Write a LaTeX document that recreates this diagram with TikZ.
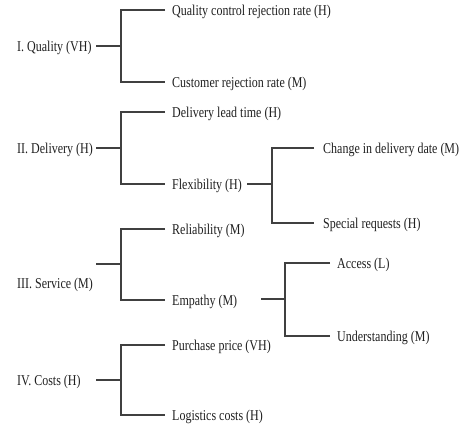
\documentclass[tikz,border=0pt]{standalone}
\usepackage{fontspec}
\setmainfont[FakeStretch=0.8]{Liberation Serif}
\begin{document}
\begin{tikzpicture}[x=1pt,y=-1pt,
  lbl/.style={anchor=base west,inner sep=0pt,font=\fontsize{15}{17}\selectfont,text=black!88},
  ln/.style={line width=1.2pt,draw=black!75}]
\useasboundingbox (0,0) rectangle (469,432);
% Group I
\node[lbl] (q) at (17,51) {I. Quality (VH)};
\node[lbl] (qa) at (172,15) {Quality control rejection rate (H)};
\node[lbl] (qb) at (172,87) {Customer rejection rate (M)};
\coordinate (qs) at (96,46);
\coordinate (qj) at (121,46);
\draw[ln] (qs) -- (qj);
\draw[ln] ([xshift=-7pt,yshift=5pt]qa.base west) -| (qj) |- ([xshift=-7pt,yshift=5pt]qb.base west);
% Group II
\node[lbl] (d) at (17,153) {II. Delivery (H)};
\node[lbl] (da) at (172,117) {Delivery lead time (H)};
\node[lbl] (db) at (172,189) {Flexibility (H)};
\coordinate (ds) at (96,148);
\coordinate (dj) at (121,148);
\draw[ln] (ds) -- (dj);
\draw[ln] ([xshift=-7pt,yshift=5pt]da.base west) -| (dj) |- ([xshift=-7pt,yshift=5pt]db.base west);
\node[lbl] (fa) at (323,153) {Change in delivery date (M)};
\node[lbl] (fb) at (323,228) {Special requests (H)};
\coordinate (fs) at (247,184);
\coordinate (fj) at (272,184);
\draw[ln] (fs) -- (fj);
\draw[ln] ([xshift=-9pt,yshift=5pt]fa.base west) -| (fj) |- ([xshift=-9pt,yshift=5pt]fb.base west);
% Group III
\node[lbl] (s) at (17,288) {III. Service (M)};
\node[lbl] (sa) at (172,234) {Reliability (M)};
\node[lbl] (sb) at (172,305) {Empathy (M)};
\coordinate (ss) at (96,264);
\coordinate (sj) at (121,264);
\draw[ln] (ss) -- (sj);
\draw[ln] ([xshift=-7pt,yshift=5pt]sa.base west) -| (sj) |- ([xshift=-7pt,yshift=5pt]sb.base west);
\node[lbl] (ea) at (337,268) {Access (L)};
\node[lbl] (eb) at (337,341) {Understanding (M)};
\coordinate (es) at (261,299);
\coordinate (ej) at (285,299);
\draw[ln] (es) -- (ej);
\draw[ln] ([xshift=-7pt,yshift=5pt]ea.base west) -| (ej) |- ([xshift=-7pt,yshift=5pt]eb.base west);
% Group IV
\node[lbl] (c) at (17,385) {IV. Costs (H)};
\node[lbl] (ca) at (172,350) {Purchase price (VH)};
\node[lbl] (cb) at (172,420) {Logistics costs (H)};
\coordinate (cs) at (96,380);
\coordinate (cj) at (121,380);
\draw[ln] (cs) -- (cj);
\draw[ln] ([xshift=-7pt,yshift=5pt]ca.base west) -| (cj) |- ([xshift=-7pt,yshift=5pt]cb.base west);
\end{tikzpicture}
\end{document}
